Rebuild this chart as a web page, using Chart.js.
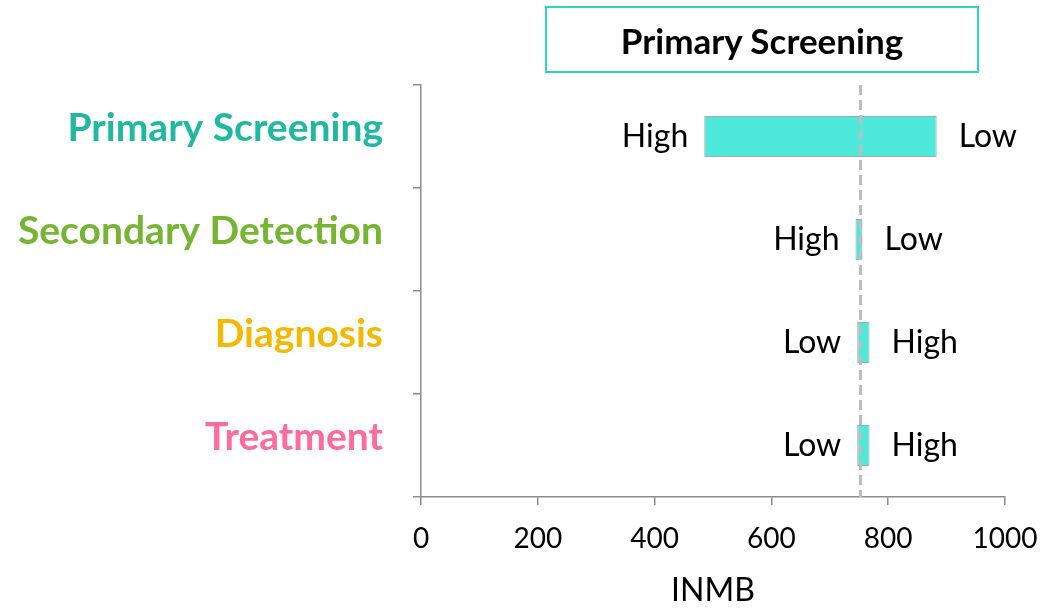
<!DOCTYPE html>
<html>
<head>
<meta charset="utf-8">
<script src="https://cdn.jsdelivr.net/npm/chart.js@4/dist/chart.umd.min.js"></script>
<style>
  html, body { margin: 0; padding: 0; background: #fff; }
  #wrap { position: relative; width: 1042px; height: 610px; }
  #chart { position: absolute; left: 0; top: 0; }
  #titleBox {
    position: absolute; left: 545px; top: 6px; width: 430px; height: 63px;
    border: 2px solid #2dd4c0; box-sizing: content-box;
    display: flex; align-items: center; justify-content: center;
    font-family: Lato, "Open Sans", sans-serif; font-weight: bold; font-size: 35px; color: #000;
  }
</style>
</head>
<body>
<div id="wrap">
  <canvas id="chart" width="1042" height="610"></canvas>
  <div id="titleBox">Primary Screening</div>
</div>
<script>
// Tornado of INMB by care stage: value at the high and low parameter setting
const categories = ['Primary Screening', 'Secondary Detection', 'Diagnosis', 'Treatment'];
const categoryColors = ['#1fb8a0', '#76b531', '#f5b800', '#ff6b9a'];
const highValues = [485, 744, 768, 768];
const lowValues = [883, 756, 747, 747];
const baseValue = 752;
const xTicks = [0, 200, 400, 600, 800, 1000];

const FONT = 'Lato, "Open Sans", sans-serif';

const ranges = categories.map((c, i) => [Math.min(highValues[i], lowValues[i]), Math.max(highValues[i], lowValues[i])]);

// Dashed base-case line and High/Low labels at the bar ends
const tornadoDecor = {
  id: 'tornadoDecor',
  afterDatasetsDraw(chart) {
    const { ctx, chartArea, scales: { x } } = chart;
    const meta = chart.getDatasetMeta(0);
    ctx.save();
    const bx = Math.round(x.getPixelForValue(baseValue)) + 0.5;
    ctx.strokeStyle = '#bdbdbd';
    ctx.lineWidth = 3;
    ctx.setLineDash([10, 5]);
    ctx.beginPath();
    ctx.moveTo(bx, chartArea.top);
    ctx.lineTo(bx, chartArea.bottom);
    ctx.stroke();
    ctx.setLineDash([]);

    ctx.font = '32px ' + FONT;
    ctx.fillStyle = '#000';
    ctx.textBaseline = 'middle';
    categories.forEach((c, i) => {
      const y = meta.data[i].y;
      const hi = highValues[i], lo = lowValues[i];
      const leftLabel = hi <= lo ? 'High' : 'Low';
      const rightLabel = hi <= lo ? 'Low' : 'High';
      const lp = x.getPixelForValue(Math.min(hi, lo));
      const rp = x.getPixelForValue(Math.max(hi, lo));
      ctx.textAlign = 'right';
      ctx.fillText(leftLabel, lp - 16, y);
      ctx.textAlign = 'left';
      ctx.fillText(rightLabel, rp + 22, y);
    });
    ctx.restore();
  }
};

new Chart(document.getElementById('chart'), {
  type: 'bar',
  data: {
    labels: categories,
    datasets: [{
      data: ranges,
      backgroundColor: '#4deadc',
      borderColor: '#a9a9a9',
      borderWidth: 1,
      borderSkipped: false,
      categoryPercentage: 1,
      barPercentage: 0.4
    }]
  },
  options: {
    indexAxis: 'y',
    responsive: false,
    animation: false,
    layout: { padding: { top: 85, right: 37, bottom: 0, left: 0 } },
    plugins: { legend: { display: false }, tooltip: { enabled: false }, title: { display: false } },
    scales: {
      x: {
        min: 0, max: 1000,
        afterBuildTicks(scale) { scale.ticks = xTicks.map(v => ({ value: v })); },
        afterFit(scale) { scale.height = 113; scale.paddingLeft = 0; scale.paddingRight = 0; },
        grid: { drawOnChartArea: false, color: '#8c8c8c', tickLength: 8, lineWidth: 1.5 },
        border: { color: '#8c8c8c', width: 1.5 },
        ticks: { color: '#000', font: { family: FONT, size: 28 }, padding: 17, callback: v => String(v) },
        title: { display: true, text: 'INMB', color: '#000', font: { family: FONT, size: 32 }, padding: { top: 14, bottom: 0 } }
      },
      y: {
        afterFit(scale) { scale.width = 421; scale.paddingTop = 0; scale.paddingBottom = 0; },
        grid: { drawOnChartArea: false, offset: true, color: '#8c8c8c', tickLength: 8, lineWidth: 1.5 },
        border: { color: '#8c8c8c', width: 1.5 },
        ticks: {
          color: ctx => categoryColors[ctx.index],
          font: { family: FONT, size: 39, weight: 'bold' },
          padding: 30,
          labelOffset: -8
        }
      }
    }
  },
  plugins: [tornadoDecor]
});
</script>
</body>
</html>
